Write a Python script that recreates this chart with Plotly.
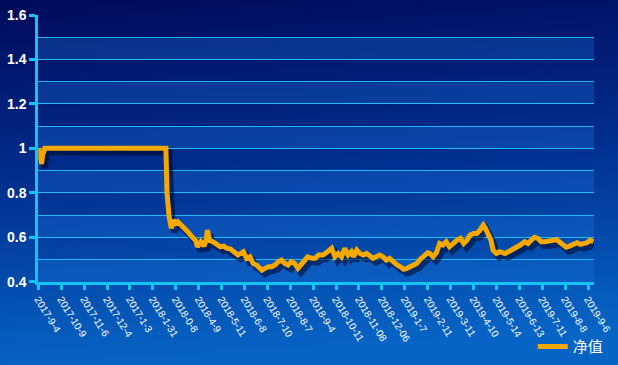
import base64
import plotly.graph_objects as go

# ---- data ----
tick_labels = ["2017-9-4", "2017-10-9", "2017-11-6", "2017-12-4", "2017-1-3", "2018-1-31",
               "2018-0-8", "2018-4-9", "2018-5-11", "2018-6-8", "2018-7-10", "2018-8-7",
               "2018-9-4", "2018-10-11", "2018-11-08", "2018-12-06", "2019-1-7", "2019-2-11",
               "2019-3-11", "2019-4-10", "2019-5-14", "2019-6-13", "2019-7-11", "2019-8-8",
               "2019-9-6"]
# trading-day index of each tick label (one label every 21 trading days)
tick_days = [0, 21, 42, 63, 84, 105, 126, 147, 168, 189, 210, 231, 252, 273, 294, 315,
             336, 357, 378, 399, 420, 441, 462, 483, 504]

day_index = [0, 2, 3, 4, 6, 117, 118, 120, 121, 122, 124, 126, 128, 131, 134, 137, 141, 144,
             146, 149, 152, 154, 155, 157, 160, 164, 167, 170, 173, 176, 180, 183, 188, 191,
             194, 197, 200, 205, 208, 211, 214, 217, 220, 223, 226, 229, 232, 235, 238, 241,
             244, 247, 251, 254, 257, 261, 264, 267, 269, 272, 275, 278, 281, 284, 287, 289,
             292, 295, 298, 301, 304, 307, 310, 313, 316, 319, 322, 325, 329, 332, 335, 338,
             341, 344, 347, 350, 354, 357, 359, 362, 365, 368, 371, 374, 377, 380, 384, 387,
             390, 393, 396, 399, 402, 405, 408, 410, 412, 415, 417, 420, 423, 428, 431, 434,
             438, 442, 446, 449, 452, 455, 458, 461, 464, 467, 471, 475, 478, 481, 484, 487,
             490, 494, 497, 500, 503, 506, 509]
nav = [1.0, 0.96, 0.93, 0.97, 1.0, 1.0, 0.80, 0.69, 0.664, 0.64, 0.677, 0.663, 0.67, 0.655,
       0.647, 0.625, 0.602, 0.587, 0.557, 0.58, 0.56, 0.59, 0.632, 0.587, 0.58, 0.565, 0.557,
       0.56, 0.55, 0.548, 0.535, 0.52, 0.535, 0.505, 0.512, 0.482, 0.475, 0.452, 0.46, 0.467,
       0.467, 0.475, 0.49, 0.497, 0.482, 0.475, 0.49, 0.482, 0.46, 0.475, 0.497, 0.512, 0.505,
       0.505, 0.52, 0.52, 0.53, 0.545, 0.55, 0.512, 0.527, 0.512, 0.55, 0.52, 0.535, 0.512,
       0.542, 0.527, 0.52, 0.527, 0.512, 0.505, 0.512, 0.52, 0.512, 0.497, 0.505, 0.49, 0.475,
       0.467, 0.456, 0.46, 0.467, 0.475, 0.482, 0.5, 0.515, 0.53, 0.527, 0.512, 0.53, 0.572,
       0.565, 0.58, 0.557, 0.572, 0.587, 0.595, 0.572, 0.587, 0.61, 0.617, 0.617, 0.632, 0.655,
       0.64, 0.617, 0.587, 0.542, 0.527, 0.535, 0.527, 0.535, 0.542, 0.55, 0.565, 0.58, 0.572,
       0.587, 0.6, 0.595, 0.58, 0.58, 0.58, 0.585, 0.59, 0.58, 0.565, 0.555, 0.56, 0.568,
       0.575, 0.568, 0.572, 0.575, 0.587, 0.58]
series_name = "净值"
y_ticks = [0.4, 0.6, 0.8, 1.0, 1.2, 1.4, 1.6]
band_starts = [0.4, 0.6, 0.8, 1.0, 1.2, 1.4]

# ---- styling ----
W, H = 618, 365
X_RANGE = [0, 509.5]
Y_RANGE = [0.4, 1.6]
CYAN = "#12c4f4"
GRID = "rgba(30,190,245,0.95)"
LINE = "#f5a800"
FONT = "Arial, 'Liberation Sans', 'Noto Sans CJK SC', sans-serif"

x_dom = [38.3 / W, 594 / W]
y_dom = [(H - 281.7) / H, (H - 15) / H]
px_per_x = (x_dom[1] - x_dom[0]) * W / (X_RANGE[1] - X_RANGE[0])
px_per_y = (y_dom[1] - y_dom[0]) * H / (Y_RANGE[1] - Y_RANGE[0])
sdx, sdy = 3 / px_per_x, 4 / px_per_y  # shadow offset in data units

svg = (f'<svg xmlns="http://www.w3.org/2000/svg" width="{W}" height="{H}" preserveAspectRatio="none">'
       '<defs><linearGradient id="g" x1="0" y1="0" x2="0.12" y2="1">'
       '<stop offset="0" stop-color="#010a5a"/><stop offset="0.5" stop-color="#012f90"/>'
       '<stop offset="1" stop-color="#0664c4"/></linearGradient></defs>'
       f'<rect width="{W}" height="{H}" fill="url(#g)"/></svg>')
bg_uri = "data:image/svg+xml;base64," + base64.b64encode(svg.encode()).decode()

fig = go.Figure()
# shadow
fig.add_trace(go.Scatter(x=day_index, y=nav, mode="lines", xaxis="x2", yaxis="y2",
                         line=dict(color="rgba(0,5,40,0.55)", width=6.5), showlegend=False,
                         hoverinfo="skip"))
# main line
fig.add_trace(go.Scatter(x=day_index, y=nav, mode="lines", name=series_name, xaxis="x3", yaxis="y3",
                         line=dict(color=LINE, width=5)))

shapes = [dict(type="rect", xref="x domain", yref="y", x0=0, x1=1, y0=b, y1=b + 0.1,
               fillcolor="rgba(30,120,225,0.30)", line=dict(width=0), layer="below")
          for b in band_starts]

fig.update_layout(
    width=W, height=H,
    margin=dict(l=0, r=0, t=0, b=0, autoexpand=False),
    paper_bgcolor="#01307f",
    plot_bgcolor="rgba(0,0,0,0)",
    font=dict(family=FONT, color="white"),
    images=[dict(source=bg_uri, xref="paper", yref="paper", x=0, y=1, sizex=1, sizey=1,
                 xanchor="left", yanchor="top", sizing="stretch", layer="below")],
    shapes=shapes,
    xaxis=dict(domain=x_dom, range=X_RANGE, tickvals=tick_days, ticktext=tick_labels,
               tickangle=58, ticks="outside", ticklen=5, tickwidth=2.5, tickcolor=CYAN,
               showline=True, linecolor=CYAN, linewidth=3, showgrid=False, zeroline=False,
               automargin=False, tickfont=dict(size=10, color="white")),
    yaxis=dict(domain=y_dom, range=Y_RANGE, tickvals=y_ticks, ticks="outside", ticklen=6,
               tickwidth=2.5, tickcolor=CYAN, showline=True, linecolor=CYAN, linewidth=3,
               showgrid=True, gridcolor=GRID, gridwidth=1, zeroline=False, automargin=False,
               minor=dict(dtick=0.1, showgrid=True, gridcolor=GRID, gridwidth=1, ticks=""),
               tickfont=dict(size=14, color="white", weight="bold")),
    xaxis2=dict(overlaying="x", anchor="y2", range=[X_RANGE[0] - sdx, X_RANGE[1] - sdx],
                visible=False, automargin=False),
    yaxis2=dict(overlaying="y", anchor="x2", range=[Y_RANGE[0] + sdy, Y_RANGE[1] + sdy],
                visible=False, automargin=False),
    xaxis3=dict(overlaying="x", anchor="y3", range=X_RANGE, visible=False, automargin=False),
    yaxis3=dict(overlaying="y", anchor="x3", range=Y_RANGE, visible=False, automargin=False),
    showlegend=True,
    legend=dict(x=0.985, y=0.005, xanchor="right", yanchor="bottom", orientation="h",
                bgcolor="rgba(0,0,0,0)", font=dict(size=15, color="white"), itemwidth=30),
)

fig.write_html("out.html", config={"displayModeBar": False},
               post_script="document.body.style.margin='0';document.body.style.overflow='hidden';")
